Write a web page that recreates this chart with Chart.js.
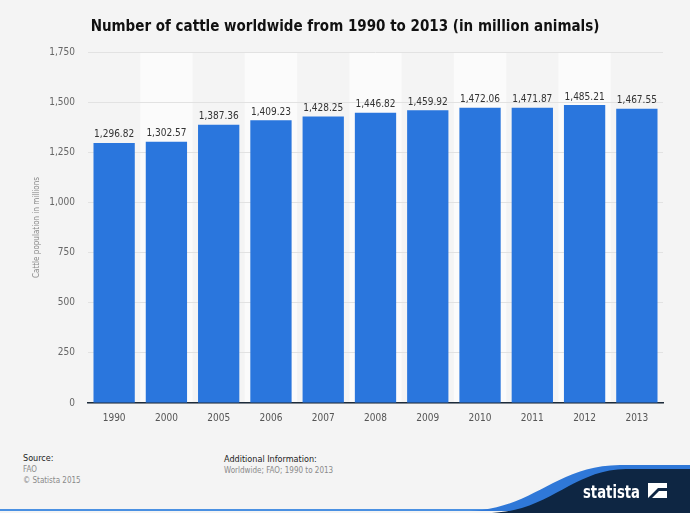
<!DOCTYPE html>
<html>
<head>
<meta charset="utf-8">
<script src="https://cdn.jsdelivr.net/npm/chart.js@4.4.1/dist/chart.umd.min.js"></script>
<style>
  html, body { margin: 0; padding: 0; background: #f4f4f4; }
  #wrap { position: relative; width: 690px; height: 513px; overflow: hidden; font-family: 'DejaVu Sans Condensed', 'DejaVu Sans', sans-serif; }
  #chart-box { position: absolute; left: 0; top: 0; width: 690px; height: 433px; }
  .foot { position: absolute; font-size: 8px; line-height: 11px; color: #8a8a8a; }
  .foot b { font-weight: normal; color: #222; font-size: 9px; }
  #logo { position: absolute; left: 0; top: 0; }
</style>
</head>
<body>
<div id="wrap">
  <div id="chart-box"><canvas id="cattle-chart" width="690" height="433"></canvas></div>

  <div class="foot" style="left:23px; top:453px;"><b>Source:</b><br>FAO<br>© Statista 2015</div>
  <div class="foot" style="left:224px; top:454px;"><b>Additional Information:</b><br>Worldwide; FAO; 1990 to 2013</div>

  <svg id="logo" width="690" height="513">
    <rect x="0" y="509" width="690" height="2" fill="#4a90e2"></rect>
    <path d="M470 511 C 535 508, 555 466, 620 465 L 690 465 L 690 511 Z" fill="#2f78d8"></path>
    <path d="M492 513 C 552 510, 572 470, 626 469 L 690 469 L 690 513 Z" fill="#0e2643"></path>
    <text x="583" y="498" fill="#ffffff" font-family="'DejaVu Sans Condensed', 'DejaVu Sans', sans-serif" font-weight="bold" font-size="18" textLength="57" lengthAdjust="spacingAndGlyphs">statista</text>
    <rect x="648" y="483" width="19" height="15" fill="#ffffff"></rect>
    <path d="M648 498 L 658 488 L 667 488 L 667 491 L 659 491 L 652 498 Z" fill="#0e2643"></path>
  </svg>
</div>

<script>
// ── Data ─────────────────────────────────────────────────────────────
const years = ['1990', '2000', '2005', '2006', '2007', '2008', '2009', '2010', '2011', '2012', '2013'];
const cattle = [1296.82, 1302.57, 1387.36, 1409.23, 1428.25, 1446.82, 1459.92, 1472.06, 1471.87, 1485.21, 1467.55];
const yTicks = [0, 250, 500, 750, 1000, 1250, 1500, 1750];

const fontFamily = "'DejaVu Sans Condensed', 'DejaVu Sans', sans-serif";
const fmt = (v, d) => v.toLocaleString('en-US', { minimumFractionDigits: d, maximumFractionDigits: d });

// lighter columns behind every second category
const columnBands = {
    id: 'columnBands',
    beforeDraw(chart) {
        const { ctx, chartArea, scales } = chart;
        const step = chartArea.width / years.length;
        ctx.save();
        ctx.fillStyle = '#fbfbfb';
        years.forEach((_, i) => {
            if (i % 2 === 1) {
                const cx = scales.x.getPixelForValue(i);
                ctx.fillRect(cx - step / 2, chartArea.top, step, chartArea.bottom - chartArea.top);
            }
        });
        ctx.restore();
    }
};

// value labels above bars
const barLabels = {
    id: 'barLabels',
    afterDatasetsDraw(chart) {
        const { ctx } = chart;
        const meta = chart.getDatasetMeta(0);
        ctx.save();
        ctx.font = '10px ' + fontFamily;
        ctx.fillStyle = '#333333';
        ctx.textAlign = 'center';
        ctx.textBaseline = 'bottom';
        meta.data.forEach((bar, i) => {
            ctx.fillText(fmt(cattle[i], 2), bar.x, bar.y - 3);
        });
        ctx.restore();
    }
};

new Chart(document.getElementById('cattle-chart'), {
    type: 'bar',
    data: {
        labels: years,
        datasets: [{
            data: cattle,
            backgroundColor: '#2a76dd',
            borderWidth: 0,
            categoryPercentage: 0.79,
            barPercentage: 1.0
        }]
    },
    options: {
        responsive: false,
        animation: false,
        layout: { padding: { left: 27, right: 27, top: 0, bottom: 0 } },
        plugins: {
            legend: { display: false },
            tooltip: { enabled: false },
            title: {
                display: true,
                text: 'Number of cattle worldwide from 1990 to 2013 (in million animals)',
                color: '#111111',
                font: { family: fontFamily, size: 15, weight: 'bold' },
                padding: { top: 18, bottom: 16 }
            }
        },
        scales: {
            x: {
                grid: { display: false, drawTicks: false },
                border: { display: true, color: '#1c2b3a', width: 1.5 },
                ticks: { color: '#555555', font: { family: fontFamily, size: 10 }, padding: 9 }
            },
            y: {
                min: 0,
                max: 1750,
                afterFit(scale) { scale.width = 61; },
                afterBuildTicks(scale) { scale.ticks = yTicks.map(v => ({ value: v })); },
                grid: { color: '#e2e2e2', drawTicks: false },
                border: { display: false },
                ticks: {
                    color: '#666666',
                    font: { family: fontFamily, size: 10 },
                    padding: 13,
                    callback: v => fmt(v, 0)
                },
                title: {
                    display: true,
                    text: 'Cattle population in millions',
                    color: '#888888',
                    font: { family: fontFamily, size: 8 },
                    padding: { top: 5, bottom: 0 }
                }
            }
        }
    },
    plugins: [columnBands, barLabels]
});
</script>
</body>
</html>
